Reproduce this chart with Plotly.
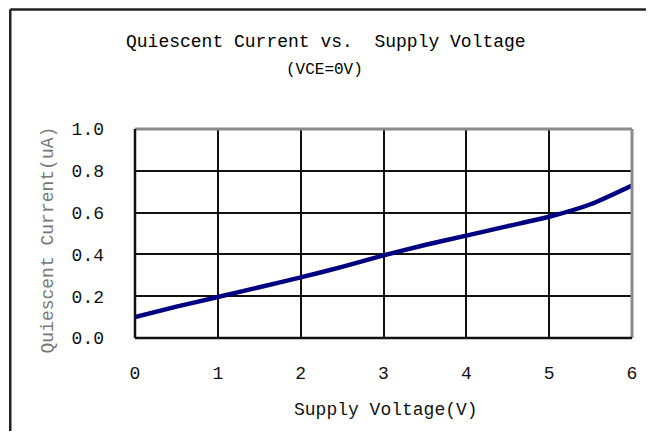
import plotly.graph_objects as go

# Data
voltage = [0, 0.5, 1, 1.5, 2, 2.5, 3, 3.5, 4, 4.5, 5, 5.5, 6]
current = [0.10, 0.15, 0.196, 0.243, 0.29, 0.34, 0.395, 0.445, 0.49, 0.535, 0.58, 0.64, 0.73]
x_ticks = [0, 1, 2, 3, 4, 5, 6]
y_ticks = [0.0, 0.2, 0.4, 0.6, 0.8, 1.0]
y_tick_text = ["0.0", "0.2", "0.4", "0.6", "0.8", "1.0"]

FONT = "Liberation Mono"
# page body has an 8px margin on every side: keep the figure inside the window
OFF = 8
W, H = 657 - 2 * OFF, 445 - 2 * OFF - 6
# plot area in window pixels
L, R, T, B = 135, 635, 129, 338

def px(xw):
    return (xw - L) / (R - L)

def py(yw):
    return (B - yw) / (B - T)

fig = go.Figure()
fig.add_trace(go.Scatter(
    x=voltage, y=current, mode="lines",
    line=dict(color="#000080", width=4.5, shape="spline", smoothing=0.6),
    hoverinfo="skip",
))

fig.update_layout(
    width=W, height=H,
    margin=dict(l=L - OFF, r=(OFF + W) - R, t=T - OFF, b=(OFF + H) - B),
    paper_bgcolor="white", plot_bgcolor="white",
    showlegend=False,
    font=dict(family=FONT, size=18, color="#111"),
    xaxis=dict(
        range=[0, 6], tickvals=x_ticks, ticktext=[str(v) for v in x_ticks],
        showgrid=True, gridcolor="#111", gridwidth=1.5,
        zeroline=False, showline=False, ticks="", ticklabelstandoff=22,
        tickfont=dict(family=FONT, size=18, color="#111"),
        fixedrange=True,
    ),
    yaxis=dict(
        range=[0, 1.0], tickvals=y_ticks, ticktext=y_tick_text,
        showgrid=True, gridcolor="#111", gridwidth=1.5,
        zeroline=False, showline=False, ticks="", ticklabelstandoff=30,
        tickfont=dict(family=FONT, size=18, color="#111"),
        fixedrange=True,
    ),
    shapes=[
        # plot frame: left/bottom dark, top/right grey
        dict(type="line", xref="paper", yref="paper", x0=0, x1=1, y0=1, y1=1,
             line=dict(color="#8a8a8a", width=3)),
        dict(type="line", xref="paper", yref="paper", x0=1, x1=1, y0=0, y1=1,
             line=dict(color="#8a8a8a", width=3)),
        dict(type="line", xref="paper", yref="paper", x0=0, x1=0, y0=0, y1=1,
             line=dict(color="#111", width=2.5)),
        dict(type="line", xref="paper", yref="paper", x0=0, x1=1, y0=0, y1=0,
             line=dict(color="#111", width=2.5)),
        # outer frame: only its top and left edges are visible
        dict(type="line", xref="paper", yref="paper",
             x0=px(OFF + 1.5), x1=px(OFF + W), y0=py(OFF + 1.5), y1=py(OFF + 1.5),
             line=dict(color="#222", width=2.5), layer="below"),
        dict(type="line", xref="paper", yref="paper",
             x0=px(OFF + 1.5), x1=px(OFF + 1.5), y0=py(OFF + 1.5), y1=py(OFF + H),
             line=dict(color="#222", width=2.5), layer="below"),
    ],
    annotations=[
        dict(text="Quiescent Current vs.  Supply Voltage", xref="paper", yref="paper",
             x=px(327), y=py(42), showarrow=False, xanchor="center", yanchor="middle",
             font=dict(family=FONT, size=18, color="#000")),
        dict(text="(VCE=0V)", xref="paper", yref="paper",
             x=px(326), y=py(70), showarrow=False, xanchor="center", yanchor="middle",
             font=dict(family=FONT, size=16, color="#000")),
        dict(text="Supply Voltage(V)", xref="paper", yref="paper",
             x=px(388), y=py(410), showarrow=False, xanchor="center", yanchor="middle",
             font=dict(family=FONT, size=18, color="#111")),
        dict(text="Quiescent Current(uA)", xref="paper", yref="paper",
             x=px(47), y=py(240), showarrow=False, xanchor="center", yanchor="middle",
             textangle=-90, font=dict(family=FONT, size=18, color="#777")),
    ],
)

fig.write_html("out.html")
